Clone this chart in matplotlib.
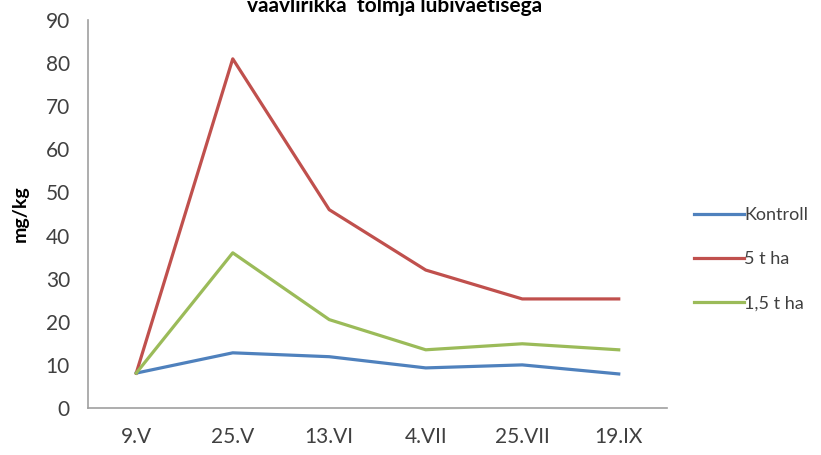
import matplotlib
matplotlib.use("Agg")
import matplotlib.pyplot as plt

dates = ["9.V", "25.V", "13.VI", "4.VII", "25.VII", "19.IX"]
kontroll = [8.1, 12.8, 11.9, 9.3, 10.0, 7.9]
t5_ha = [8.1, 81.0, 46.0, 32.0, 25.3, 25.3]
t15_ha = [8.1, 36.0, 20.5, 13.5, 14.9, 13.5]

plt.rcParams['font.family'] = ['Lato', 'DejaVu Sans']

fig = plt.figure(figsize=(8.21, 4.55), dpi=100)
ax = fig.add_axes([0.1072, 0.1033, 0.7052, 0.8527])

x = range(len(dates))
ax.plot(x, kontroll, color='#4F81BD', lw=2.3, label='Kontroll')
ax.plot(x, t5_ha, color='#C0504D', lw=2.3, label='5 t ha')
ax.plot(x, t15_ha, color='#9BBB59', lw=2.3, label='1,5 t ha')

ax.set_xlim(-0.5, len(dates) - 0.5)
ax.set_ylim(0, 90)
ax.set_yticks(range(0, 91, 10))
ax.set_xticks(list(x))
ax.set_xticklabels(dates)
ax.tick_params(axis='both', length=0, labelsize=15, colors='#404040')
ax.tick_params(axis='y', pad=13)
ax.tick_params(axis='x', pad=14)
for s in ['top', 'right']:
    ax.spines[s].set_visible(False)
for s in ['left', 'bottom']:
    ax.spines[s].set_color('#a0a0a0')
    ax.spines[s].set_linewidth(1.2)

ax.set_ylabel('mg/kg', fontsize=14, fontweight='bold', labelpad=12)

fig.text(0.481, 1 - 12 / 455, 'väävlirikka  tolmja lubiväetisega',
         ha='center', va='baseline', fontsize=15, fontweight='bold')

fig.legend(loc='center left', bbox_to_anchor=(0.825, 0.43), frameon=False,
           fontsize=13, handlelength=2.8, handletextpad=0.0, labelspacing=1.55,
           labelcolor='#404040')

fig.savefig('out.png', dpi=100)
